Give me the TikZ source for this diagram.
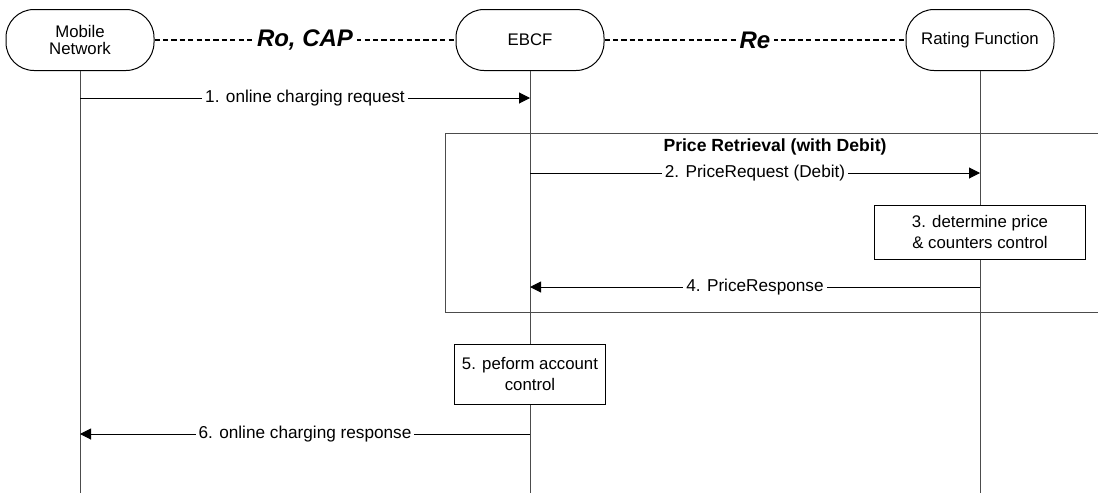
\documentclass[tikz,border=0pt]{standalone}
\usepackage{fontspec}
\setmainfont{Liberation Sans}
\usetikzlibrary{arrows.meta}
\usetikzlibrary{calc}

\begin{document}
\begin{tikzpicture}[x=0.5pt,y=-0.5pt,node distance=225pt,>={Triangle[length=5.5pt,width=5.5pt]},
  party/.style={draw,line width=0.5pt,rounded corners=14pt,minimum width=74pt,minimum height=30.5pt,align=center,font=\fontsize{8.4}{8.6}\selectfont},
  act/.style={draw,fill=white,line width=0.5pt,align=center,font=\fontsize{8.4}{10.5}\selectfont},
  lbl/.style={fill=white,inner sep=1.5pt,font=\fontsize{8.6}{10}\selectfont},
  iface/.style={fill=white,inner sep=2pt,font=\fontsize{12}{14}\selectfont\bfseries\itshape},
  iflink/.style={line width=1.1pt,dash pattern=on 2.6pt off 1.6pt},
  life/.style={draw=black!70,line width=0.5pt},
  msg/.style={->,line width=0.5pt}]
\useasboundingbox (0,0) rectangle (1098,493);
\draw node [party] (MN) at (80,40) {Mobile\\Network};
\draw node [party] [right of=MN] (EBCF) {EBCF};
\draw node [party] [right of=EBCF] (RF) {Rating Function};
% interfaces
\draw [iflink] (MN) -- node [iface] {Ro, CAP} (EBCF);
\draw [iflink] (EBCF) -- node [iface] {Re} (RF);
% price retrieval frame
\draw [life] (1098,133) -| (445,312) -- (1098,312);
\draw node [font=\fontsize{8.8}{10}\selectfont\bfseries] (PR) at (775,147) {Price Retrieval (with Debit)};
% lifelines
\coordinate (end) at (0,493);
\draw [life] (MN) -- (MN |- end);
\draw [life] (EBCF) -- (EBCF |- end);
\draw [life] (RF) -- (RF |- end);
% messages
\coordinate (m1) at (0,98);
\coordinate (m2) at (0,173);
\coordinate (m3) at (0,232);
\coordinate (m4) at (0,287);
\coordinate (m5) at (0,374);
\coordinate (m6) at (0,434);
\draw [msg] (MN |- m1) -- node [lbl] {1. online charging request} (EBCF |- m1);
\draw [msg] (EBCF |- m2) -- node [lbl] {2. PriceRequest (Debit)} (RF |- m2);
\draw node [act,minimum width=105.5pt,minimum height=27pt] (A3) at (RF |- m3) {3. determine price\\\& counters control};
\draw [msg] (RF |- m4) -- node [lbl] {4. PriceResponse} (EBCF |- m4);
\draw node [act,minimum width=75.5pt,minimum height=30pt] (A5) at (EBCF |- m5) {5. peform account\\control};
\draw [msg] (EBCF |- m6) -- node [lbl] {6. online charging response} (MN |- m6);
\end{tikzpicture}
\end{document}
